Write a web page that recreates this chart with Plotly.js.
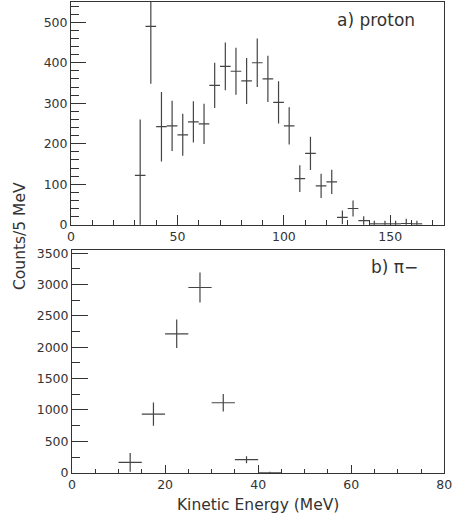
<!DOCTYPE html>
<html>
<head>
<meta charset="utf-8">
<script src="https://cdn.plot.ly/plotly-3.0.1.min.js"></script>
<style>
  body { margin: 0; padding: 0; background: #fff; }
  #plot { width: 469px; height: 517px; }
</style>
</head>
<body>
<div id="plot"></div>
<script>
// proton spectrum, 5 MeV bins
var protonEnergy = [32.5, 37.5, 42.5, 47.5, 52.5, 57.5, 62.5, 67.5, 72.5, 77.5, 82.5, 87.5, 92.5, 97.5,
  102.5, 107.5, 112.5, 117.5, 122.5, 127.5, 132.5, 137.5, 142.5, 147.5, 152.5, 157.5, 162.5];
var protonCounts = [122, 490, 242, 244, 222, 254, 249, 344, 391, 379, 355, 400, 360, 302,
  244, 114, 176, 96, 106, 18, 40, 10, 2, 2, 2, 3, 2];
var protonErr = [138, 142, 86, 62, 52, 51, 50, 56, 59, 58, 57, 60, 57, 52,
  46, 33, 41, 30, 30, 17, 20, 11, 8, 8, 8, 12, 8];

// pi- spectrum
var pionEnergy = [12.5, 17.5, 22.5, 27.5, 32.5, 37.5, 42.5];
var pionCounts = [166, 935, 2214, 2952, 1115, 207, 3];
var pionErr = [150, 185, 228, 240, 138, 55, 14];

var binHalfWidth = 2.5;

var ink = "#333";
var barColor = "#444";
var font = "DejaVu Sans, sans-serif";

function histTrace(x, y, err, xa, ya) {
  return {
    type: "scatter",
    mode: "markers",
    x: x,
    y: y,
    xaxis: xa,
    yaxis: ya,
    marker: { size: 1, color: "rgba(0,0,0,0)" },
    error_y: { type: "data", array: err, visible: true, width: 0, thickness: 1.2, color: barColor },
    error_x: { type: "constant", value: binHalfWidth, visible: true, width: 0, thickness: 1.2, color: barColor },
    showlegend: false,
    hoverinfo: "skip"
  };
}

function axisStyle(extra) {
  var base = {
    showline: true,
    linecolor: ink,
    linewidth: 1,
    mirror: true,
    showgrid: false,
    zeroline: false,
    ticks: "inside",
    tickcolor: ink,
    tickwidth: 1,
    tickfont: { family: font, size: 12.5, color: ink },
    fixedrange: true
  };
  for (var k in extra) base[k] = extra[k];
  return base;
}

var data = [
  histTrace(protonEnergy, protonCounts, protonErr, "x", "y"),
  histTrace(pionEnergy, pionCounts, pionErr, "x2", "y2")
];

var layout = {
  width: 469,
  height: 517,
  margin: { l: 0, r: 0, t: 0, b: 0 },
  paper_bgcolor: "#fff",
  plot_bgcolor: "#fff",
  font: { family: font, color: ink },
  xaxis: axisStyle({
    domain: [71 / 469, 443.5 / 469],
    range: [0, 175],
    dtick: 50,
    ticklen: 10,
    minor: { dtick: 10, ticklen: 5, ticks: "inside", tickcolor: ink, showgrid: false },
    anchor: "y"
  }),
  yaxis: axisStyle({
    domain: [(517 - 224.7) / 517, (517 - 2) / 517],
    range: [0, 550],
    dtick: 100,
    ticklen: 15,
    minor: { dtick: 20, ticklen: 8, ticks: "inside", tickcolor: ink, showgrid: false },
    anchor: "x"
  }),
  xaxis2: axisStyle({
    domain: [72 / 469, 444.3 / 469],
    range: [0, 80],
    dtick: 20,
    ticklen: 8,
    minor: { dtick: 5, ticklen: 4, ticks: "inside", tickcolor: ink, showgrid: false },
    anchor: "y2",
    title: { text: "Kinetic Energy (MeV)", font: { family: font, size: 15.5, color: ink }, standoff: 8 }
  }),
  yaxis2: axisStyle({
    domain: [(517 - 472.7) / 517, (517 - 250) / 517],
    range: [0, 3550],
    dtick: 500,
    ticklen: 16,
    minor: { dtick: 250, ticklen: 8, ticks: "inside", tickcolor: ink, showgrid: false },
    anchor: "x2"
  }),
  annotations: [
    {
      text: "Counts/5 MeV",
      xref: "paper", yref: "paper",
      x: 20 / 469, y: (517 - 236) / 517,
      xanchor: "center", yanchor: "middle",
      textangle: -90,
      showarrow: false,
      font: { family: font, size: 15.5, color: ink }
    },
    {
      text: "a) proton",
      xref: "paper", yref: "paper",
      x: 375.5 / 469, y: (517 - 20) / 517,
      xanchor: "center", yanchor: "middle",
      showarrow: false,
      font: { family: font, size: 17, color: ink }
    },
    {
      text: "b) π−",
      xref: "paper", yref: "paper",
      x: 394 / 469, y: (517 - 267) / 517,
      xanchor: "center", yanchor: "middle",
      showarrow: false,
      font: { family: font, size: 17, color: ink }
    }
  ]
};

Plotly.newPlot("plot", data, layout, { displayModeBar: false, staticPlot: true });
</script>
</body>
</html>
